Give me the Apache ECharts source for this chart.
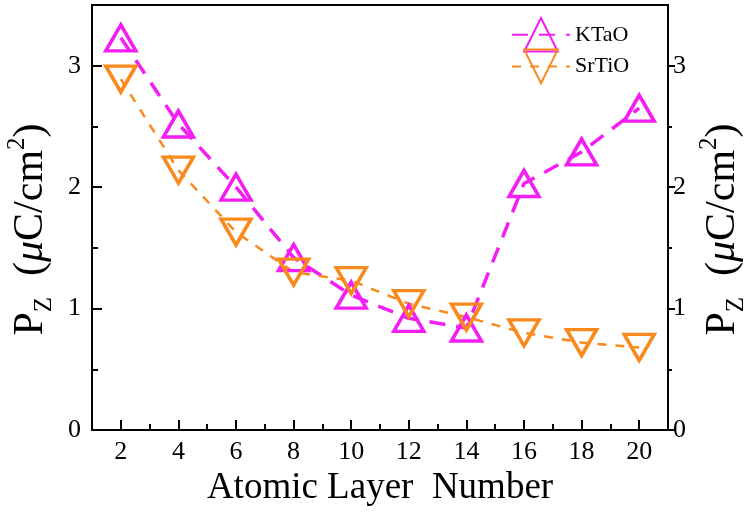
<!DOCTYPE html>
<html>
<head>
<meta charset="utf-8">
<script src="https://cdn.jsdelivr.net/npm/echarts@6/dist/echarts.min.js"></script>
<style>
  html, body { margin: 0; padding: 0; background: #fff; }
  #chart { width: 753px; height: 518px; }
</style>
</head>
<body>
<div id="chart"></div>
<script>
// atomic layer number on x, polarisation P_z on y
const layers = [2, 4, 6, 8, 10, 12, 14, 16, 18, 20];
const ktaoValues = [3.23, 2.52, 2.0, 1.42, 1.11, 0.92, 0.84, 2.03, 2.29, 2.65];
const srtioValues = [2.89, 2.14, 1.63, 1.30, 1.23, 1.04, 0.93, 0.80, 0.72, 0.68];
const seriesNames = ['KTaO', 'SrTiO'];

// tick positions
const xMajorTicks = [2, 4, 6, 8, 10, 12, 14, 16, 18, 20];
const xMinorTicks = [3, 5, 7, 9, 11, 13, 15, 17, 19];
const yMajorTicks = [0, 1, 2, 3];
const yMinorTicks = [0.5, 1.5, 2.5];

const serif = 'Liberation Serif, Times New Roman, serif';
const magenta = '#F41EF4';
const orange = '#FA891C';

function pairs(xs, ys) {
  return xs.map(function (x, i) { return [x, ys[i]]; });
}

const titleRich = {
  p: { fontSize: 42, fontFamily: serif, color: '#000', lineHeight: 52 },
  sub: { fontSize: 25, fontFamily: serif, color: '#000', lineHeight: 25, verticalAlign: 'bottom' },
  t: { fontSize: 42, fontFamily: serif, color: '#000', lineHeight: 52 },
  mu: { fontSize: 42, fontFamily: serif, fontStyle: 'italic', color: '#000', lineHeight: 52 },
  sup: { fontSize: 25, fontFamily: serif, color: '#000', lineHeight: 33, verticalAlign: 'top' }
};
const yTitle = '{p|P}{sub|Z}{t|  (}{mu|μ}{t|C/cm}{sup|2}{t|)}';

const blackLine = { color: '#000', width: 2 };

function yAxisFor(pos, inside, gap) {
  return {
    type: 'value',
    position: pos,
    min: 0,
    max: 3.5,
    interval: 1,
    name: yTitle,
    nameLocation: 'middle',
    nameRotate: 90,
    nameGap: gap,
    nameTextStyle: { rich: titleRich, padding: [0, 24, 0, 0] },
    axisLine: { show: true, lineStyle: blackLine },
    axisTick: { show: true, inside: inside, length: inside ? 10 : 7, customValues: yMajorTicks, lineStyle: blackLine },
    axisLabel: {
      customValues: yMajorTicks,
      fontSize: 26,
      fontFamily: serif,
      color: '#000',
      margin: inside ? 11 : 5
    },
    splitLine: { show: false }
  };
}

// extra hidden axes that only carry the short minor ticks
function yMinorAxis(pos, inside) {
  return {
    type: 'value',
    position: pos,
    min: 0,
    max: 3.5,
    interval: 1,
    axisLine: { show: false },
    axisTick: { show: true, inside: inside, length: inside ? 6 : 4, customValues: yMinorTicks, lineStyle: blackLine },
    axisLabel: { show: false },
    splitLine: { show: false }
  };
}

const chart = echarts.init(document.getElementById('chart'));

chart.setOption({
  animation: false,
  backgroundColor: '#fff',
  grid: {
    left: 92, right: 85, top: 5, bottom: 88,
    outerBoundsMode: 'none',
    containLabel: false,
    show: true, borderColor: '#000', borderWidth: 2, backgroundColor: 'transparent'
  },
  legend: {
    data: seriesNames,
    orient: 'vertical',
    left: 506,
    top: 12,
    itemWidth: 58,
    itemHeight: 42,
    itemGap: -4,
    textStyle: { fontSize: 22, fontFamily: serif, color: '#000' }
  },
  xAxis: [
    {
      type: 'value',
      min: 1,
      max: 21,
      interval: 1,
      name: 'Atomic Layer  Number',
      nameLocation: 'middle',
      nameGap: 39,
      nameTextStyle: { fontSize: 37, fontFamily: serif, color: '#000' },
      axisLine: { show: true, lineStyle: blackLine },
      axisTick: { show: true, inside: true, length: 10, customValues: xMajorTicks, lineStyle: blackLine },
      axisLabel: {
        customValues: xMajorTicks,
        fontSize: 26,
        fontFamily: serif,
        color: '#000',
        margin: 9
      },
      splitLine: { show: false }
    },
    {
      type: 'value',
      position: 'bottom',
      min: 1,
      max: 21,
      interval: 1,
      axisLine: { show: false },
      axisTick: { show: true, inside: true, length: 6, customValues: xMinorTicks, lineStyle: blackLine },
      axisLabel: { show: false },
      splitLine: { show: false }
    }
  ],
  yAxis: [
    yAxisFor('left', true, 35),
    yAxisFor('right', false, 27),
    yMinorAxis('left', true),
    yMinorAxis('right', false)
  ],
  series: [
    {
      name: seriesNames[0],
      type: 'line',
      data: pairs(layers, ktaoValues),
      symbol: 'triangle',
      symbolSize: [30, 26],
      itemStyle: { color: 'rgba(255,255,255,0)', borderColor: magenta, borderWidth: 3.5 },
      lineStyle: { color: magenta, width: 3.5, type: [16, 11] }
    },
    {
      name: seriesNames[1],
      type: 'line',
      data: pairs(layers, srtioValues),
      symbol: 'triangle',
      symbolRotate: 180,
      symbolSize: [30, 26],
      itemStyle: { color: 'rgba(255,255,255,0)', borderColor: orange, borderWidth: 3.5 },
      lineStyle: { color: orange, width: 2.5, type: [9, 9] }
    }
  ]
});
</script>
</body>
</html>
